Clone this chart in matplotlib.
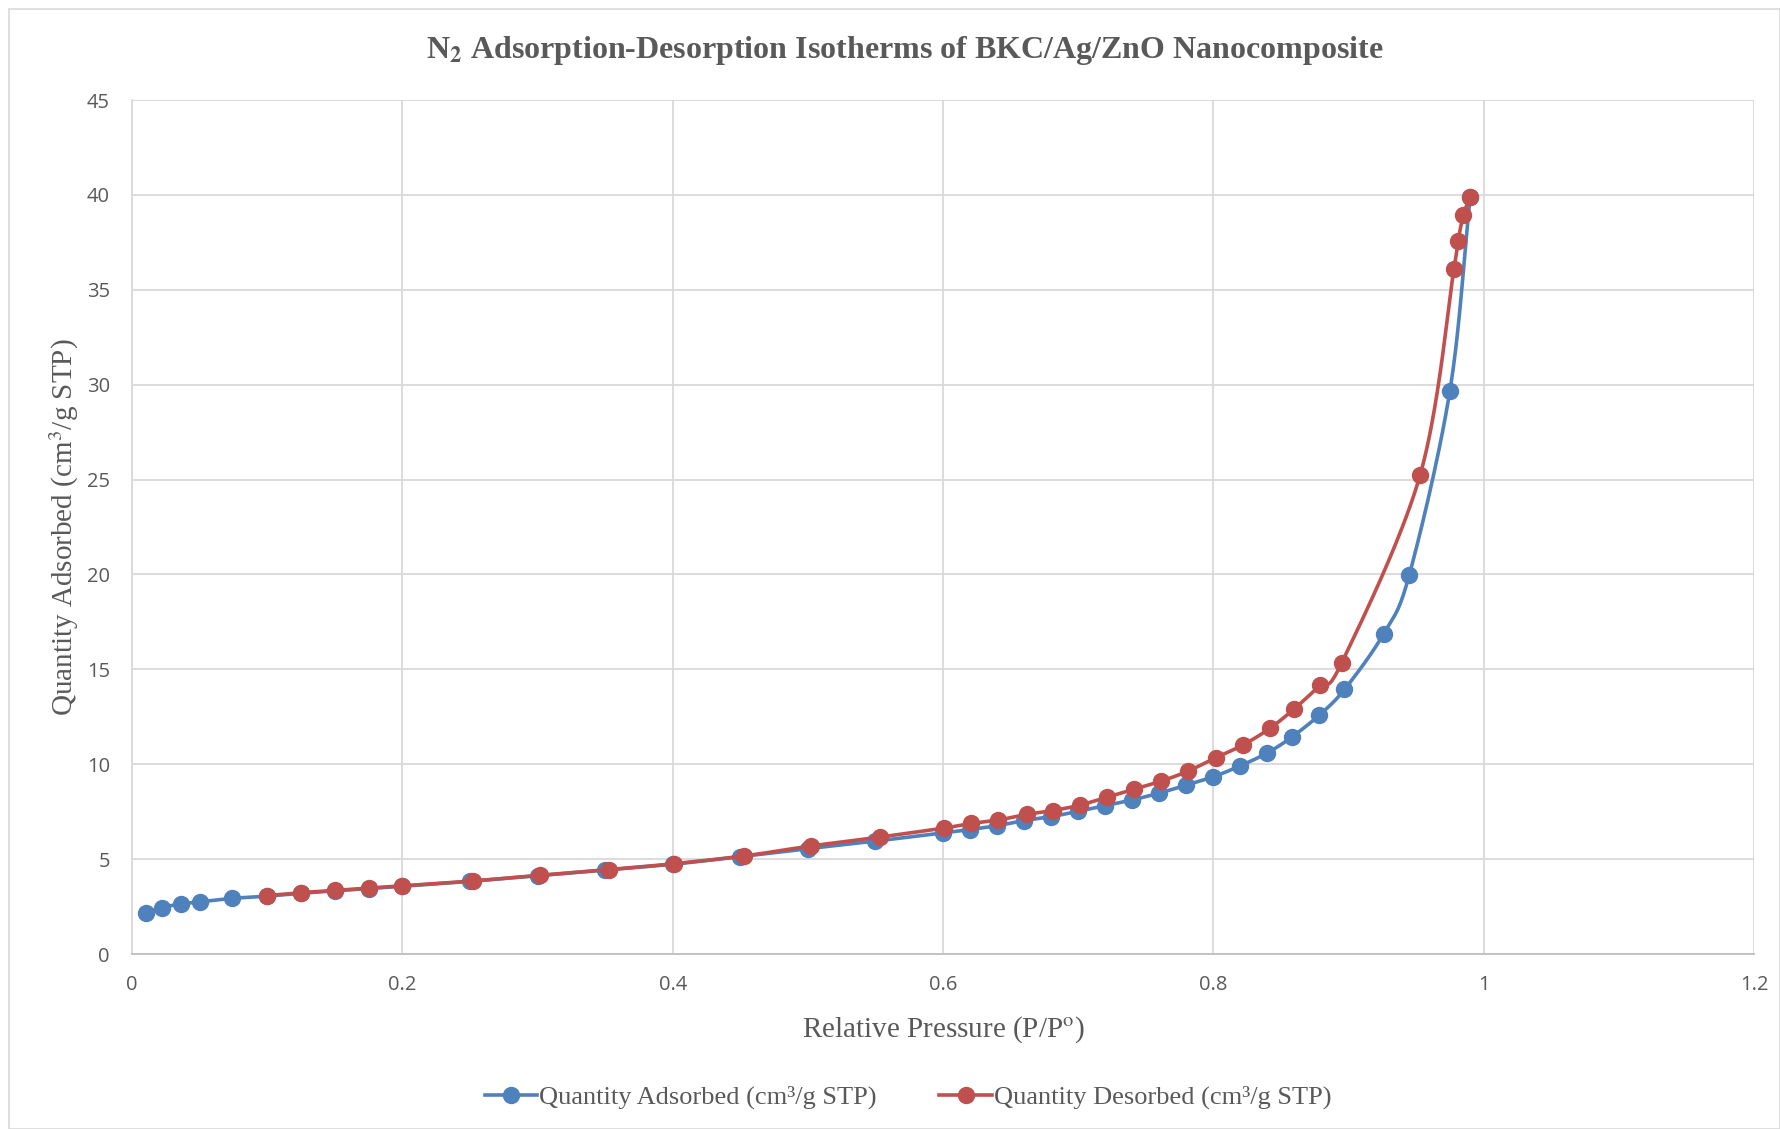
import numpy as np
import matplotlib
matplotlib.use("Agg")
import matplotlib.pyplot as plt
from matplotlib.lines import Line2D
from matplotlib.patches import Rectangle

# ---------------- data ----------------
ads_x = [0.010, 0.022, 0.036, 0.050, 0.074, 0.100, 0.125, 0.150, 0.175, 0.200,
         0.250, 0.300, 0.350, 0.400, 0.450, 0.500, 0.550, 0.600, 0.620, 0.640,
         0.660, 0.680, 0.700, 0.720, 0.740, 0.760, 0.780, 0.800, 0.820, 0.840,
         0.858, 0.878, 0.897, 0.926, 0.945, 0.975, 0.990]
ads_y = [2.15, 2.45, 2.63, 2.75, 2.93, 3.05, 3.20, 3.33, 3.45, 3.57,
         3.83, 4.13, 4.43, 4.73, 5.13, 5.55, 5.95, 6.38, 6.56, 6.76,
         7.03, 7.24, 7.52, 7.82, 8.12, 8.48, 8.90, 9.34, 9.92, 10.60,
         11.43, 12.57, 13.94, 16.88, 19.99, 29.68, 39.90]

des_x = [0.100, 0.125, 0.150, 0.175, 0.200, 0.252, 0.302, 0.353, 0.401, 0.453,
         0.502, 0.553, 0.601, 0.621, 0.641, 0.662, 0.681, 0.701, 0.721, 0.741,
         0.761, 0.781, 0.802, 0.822, 0.842, 0.860, 0.879, 0.895, 0.953, 0.978,
         0.981, 0.985, 0.990]
des_y = [3.08, 3.23, 3.35, 3.47, 3.59, 3.85, 4.15, 4.45, 4.76, 5.17,
         5.69, 6.16, 6.64, 6.88, 7.06, 7.36, 7.56, 7.84, 8.26, 8.68,
         9.10, 9.63, 10.35, 11.02, 11.90, 12.93, 14.17, 15.35, 25.25, 36.10,
         37.55, 38.95, 39.90]

x_ticks = [0, 0.2, 0.4, 0.6, 0.8, 1, 1.2]
x_tick_labels = ["0", "0.2", "0.4", "0.6", "0.8", "1", "1.2"]
y_ticks = [0, 5, 10, 15, 20, 25, 30, 35, 40, 45]

title = r"N$_\mathbf{2}$ Adsorption-Desorption Isotherms of BKC/Ag/ZnO Nanocomposite"
xlabel = r"Relative Pressure (P/P$^{\mathrm{o}}$)"
ylabel = r"Quantity Adsorbed (cm$^{3}$/g STP)"
ads_label = "Quantity Adsorbed (cm³/g STP)"
des_label = "Quantity Desorbed (cm³/g STP)"

BLUE = "#4F81BD"
RED = "#C0504D"
TXT = "#595959"

plt.rcParams["mathtext.fontset"] = "stix"


def smooth(x, y, xr=1.2, yr=45.0 * 854 / 1622, n=24):
    """Catmull-Rom smoothing in normalized screen-like space."""
    px = np.asarray(x) / xr
    py = np.asarray(y) / yr
    P = np.column_stack([px, py])
    P = np.vstack([P[0] - (P[1] - P[0]), P, P[-1] + (P[-1] - P[-2])])
    out = []
    for i in range(1, len(P) - 2):
        p0, p1, p2, p3 = P[i - 1], P[i], P[i + 1], P[i + 2]
        t = np.linspace(0, 1, n, endpoint=False)[:, None]
        seg = 0.5 * ((2 * p1) + (-p0 + p2) * t + (2 * p0 - 5 * p1 + 4 * p2 - p3) * t ** 2
                     + (-p0 + 3 * p1 - 3 * p2 + p3) * t ** 3)
        out.append(seg)
    out.append(P[-2][None, :])
    S = np.vstack(out)
    return S[:, 0] * xr, S[:, 1] * yr


fig = plt.figure(figsize=(17.8, 11.29), dpi=100)
ax = fig.add_axes([0.0742, 0.155, 0.9112, 0.7564])

LW = 2.6
MS = 11.5
sx, sy = smooth(ads_x, ads_y)
ax.plot(sx, sy, color=BLUE, lw=LW, zorder=3, solid_capstyle="round")
ax.plot(ads_x, ads_y, "o", color=BLUE, ms=MS, zorder=4)
sx, sy = smooth(des_x, des_y)
ax.plot(sx, sy, color=RED, lw=LW, zorder=5, solid_capstyle="round")
ax.plot(des_x, des_y, "o", color=RED, ms=MS, zorder=6)

ax.set_xlim(0, 1.2)
ax.set_ylim(0, 45)
ax.set_xticks(x_ticks)
ax.set_xticklabels(x_tick_labels)
ax.set_yticks(y_ticks)
ax.grid(True, color="#D9D9D9", lw=1.3)
ax.set_axisbelow(True)
for s in ["top", "right"]:
    ax.spines[s].set_visible(False)
ax.spines["left"].set_color("#D9D9D9")
ax.spines["left"].set_linewidth(1.3)
ax.spines["bottom"].set_color("#BFBFBF")
ax.spines["bottom"].set_linewidth(1.3)
ax.tick_params(length=0, labelsize=14.5, labelcolor=TXT)
ax.tick_params(axis="x", pad=15)
ax.tick_params(axis="y", pad=16)
for lab in ax.get_xticklabels() + ax.get_yticklabels():
    lab.set_family("Open Sans")

ax.set_xlabel(xlabel, family="Liberation Serif", fontsize=21, color=TXT, labelpad=14)
ax.set_ylabel(ylabel, family="Liberation Serif", fontsize=21, color=TXT, labelpad=4)

fig.text(0.508, 0.955, title, ha="center", va="center", family="Liberation Serif",
         fontweight="bold", fontsize=23, color=TXT)

handles = [Line2D([], [], color=BLUE, lw=LW, marker="o", ms=MS),
           Line2D([], [], color=RED, lw=LW, marker="o", ms=MS)]
fig.legend(handles, [ads_label, des_label], loc="center", bbox_to_anchor=(0.510, 0.028),
           ncol=2, frameon=False, handlelength=2.0, handletextpad=0.05, columnspacing=2.4,
           prop={"family": "Liberation Serif", "size": 19}, labelcolor=TXT)

fig.patches.append(Rectangle((0.005, 0.0), 0.995, 0.992, transform=fig.transFigure,
                             fill=False, edgecolor="#D9D9D9", lw=1.2))

fig.savefig("out.png", dpi=100)
